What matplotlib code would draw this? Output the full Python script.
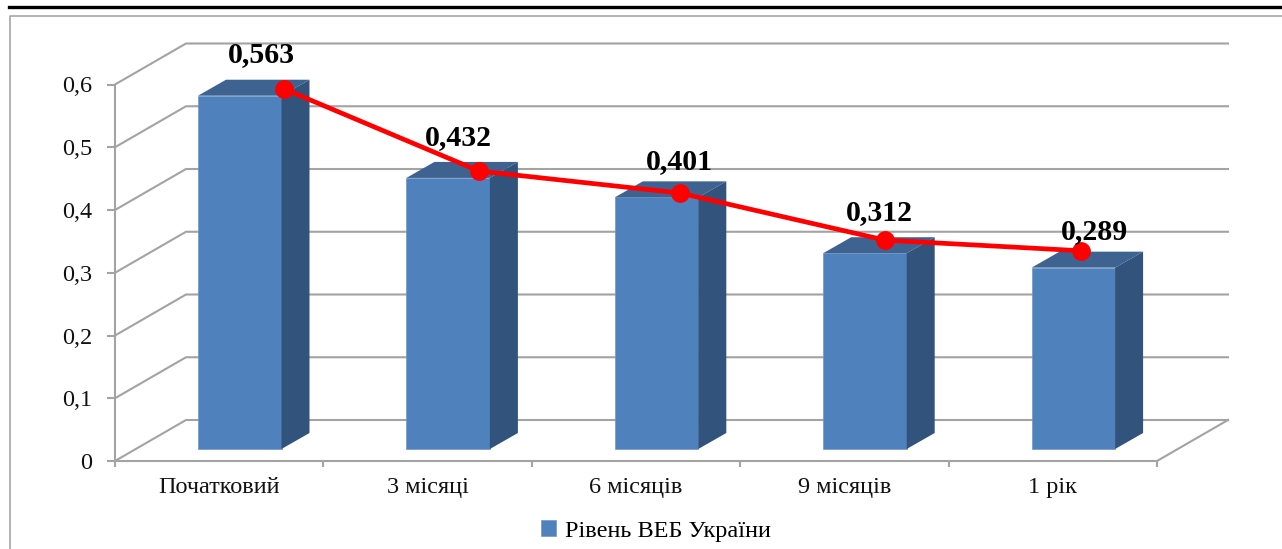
import matplotlib
matplotlib.use("Agg")
import matplotlib.pyplot as plt
from matplotlib.patches import Polygon
from matplotlib.lines import Line2D

categories = ["Початковий", "3 місяці", "6 місяців", "9 місяців", "1 рік"]
bar_values = [0.563, 0.432, 0.401, 0.312, 0.289]
bar_labels = ["0,563", "0,432", "0,401", "0,312", "0,289"]
y_ticks = [0, 0.1, 0.2, 0.3, 0.4, 0.5, 0.6]
y_tick_labels = ["0", "0,1", "0,2", "0,3", "0,4", "0,5", "0,6"]
series_name = "Рівень ВЕБ України"
# overlaid line, read in the axes' category / value units
line_x = [0.811, 1.747, 2.711, 3.695, 4.635]
line_y = [0.593, 0.462, 0.427, 0.352, 0.335]
label_x = [0.70, 1.65, 2.71, 3.67, 4.70]
label_y = [0.648, 0.515, 0.477, 0.396, 0.365]

W, H = 1282, 549
L, R, T, B = 115, 1157, 84.5, 461
GRID = "#A3A3A3"
FONT = "Liberation Serif"
FS = 17.5

fig = plt.figure(figsize=(W / 100, H / 100), dpi=100)
ax = fig.add_axes([L / W, 1 - B / H, (R - L) / W, (B - T) / H])
ax.set_xlim(0, 5)
ax.set_ylim(0, 0.6)
ax.patch.set_alpha(0)

ux = (R - L) / 5
uy = (B - T) / 0.6
back_dx, back_dy = 71 / ux, 41 / uy
bar_dx, bar_dy = 28 / ux, 16 / uy
bar_left, bar_width, bar_base = 83 / ux, 83.5 / ux, 12 / uy

# walls
for v in y_ticks:
    ax.plot([0, back_dx, 5 + back_dx], [v, v + back_dy, v + back_dy], color=GRID, lw=1.5,
            clip_on=False, zorder=1, solid_joinstyle="miter")
ax.plot([5, 5 + back_dx], [0, back_dy], color=GRID, lw=1.5, clip_on=False, zorder=1)

for s in ("top", "right"):
    ax.spines[s].set_visible(False)
for s in ("left", "bottom"):
    ax.spines[s].set_color(GRID)
    ax.spines[s].set_linewidth(1.5)
    ax.spines[s].set_zorder(2)
ax.set_yticks(y_ticks, y_tick_labels, fontfamily=FONT, fontsize=FS, color="#111111")
ax.set_xticks(range(6))
ax.tick_params(axis="y", color=GRID, width=1.5, length=5.5, pad=11)
ax.tick_params(axis="x", color=GRID, width=1.5, length=4, labelbottom=False)
for i, c in enumerate(categories):
    ax.text(i + 0.5, -0.0255, c, ha="center", va="top", fontfamily=FONT, fontsize=FS, color="#111111",
            transform=ax.transData, clip_on=False)

# bars with depth
xs = [i + bar_left for i in range(len(bar_values))]
bars = ax.bar(xs, bar_values, width=bar_width, bottom=bar_base, align="edge", color="#4F81BD",
              edgecolor="#6E98CB", linewidth=0.5, zorder=3, label=series_name)
for x, v in zip(xs, bar_values):
    top = bar_base + v
    ax.add_patch(Polygon([(x, top), (x + bar_dx, top + bar_dy), (x + bar_width + bar_dx, top + bar_dy),
                          (x + bar_width, top)], closed=True, fc="#3E6390", ec="none", zorder=3, clip_on=False))
    ax.add_patch(Polygon([(x + bar_width, bar_base), (x + bar_width + bar_dx, bar_base + bar_dy),
                          (x + bar_width + bar_dx, top + bar_dy), (x + bar_width, top)],
                         closed=True, fc="#32547C", ec="none", zorder=3, clip_on=False))

# line
ax.plot(line_x, line_y, color="#FF0000", lw=3.4, marker="o", ms=12.5, mec="#FF0000", clip_on=False,
        zorder=5, solid_capstyle="round")
for x, y, t in zip(label_x, label_y, bar_labels):
    ax.text(x, y, t, ha="center", va="center", fontfamily=FONT, fontsize=21.5, fontweight="bold",
            color="black", zorder=6, clip_on=False)

# legend
ax.legend(handles=[bars], loc="center", bbox_to_anchor=(656 / W, 1 - 531 / H),
          bbox_transform=fig.transFigure, frameon=False, handlelength=0.62, handleheight=0.62,
          handletextpad=0.35, prop={"family": FONT, "size": FS})

# frame and top rule
fig.add_artist(Line2D([10 / W, 10 / W, 1], [0, 1 - 15.5 / H, 1 - 15.5 / H], color="#A6A6A6", lw=1.2))
fig.add_artist(Line2D([9 / W, 1], [1 - 6.7 / H, 1 - 6.7 / H], color="black", lw=2.4))

fig.savefig("out.png", dpi=100, facecolor="white")
